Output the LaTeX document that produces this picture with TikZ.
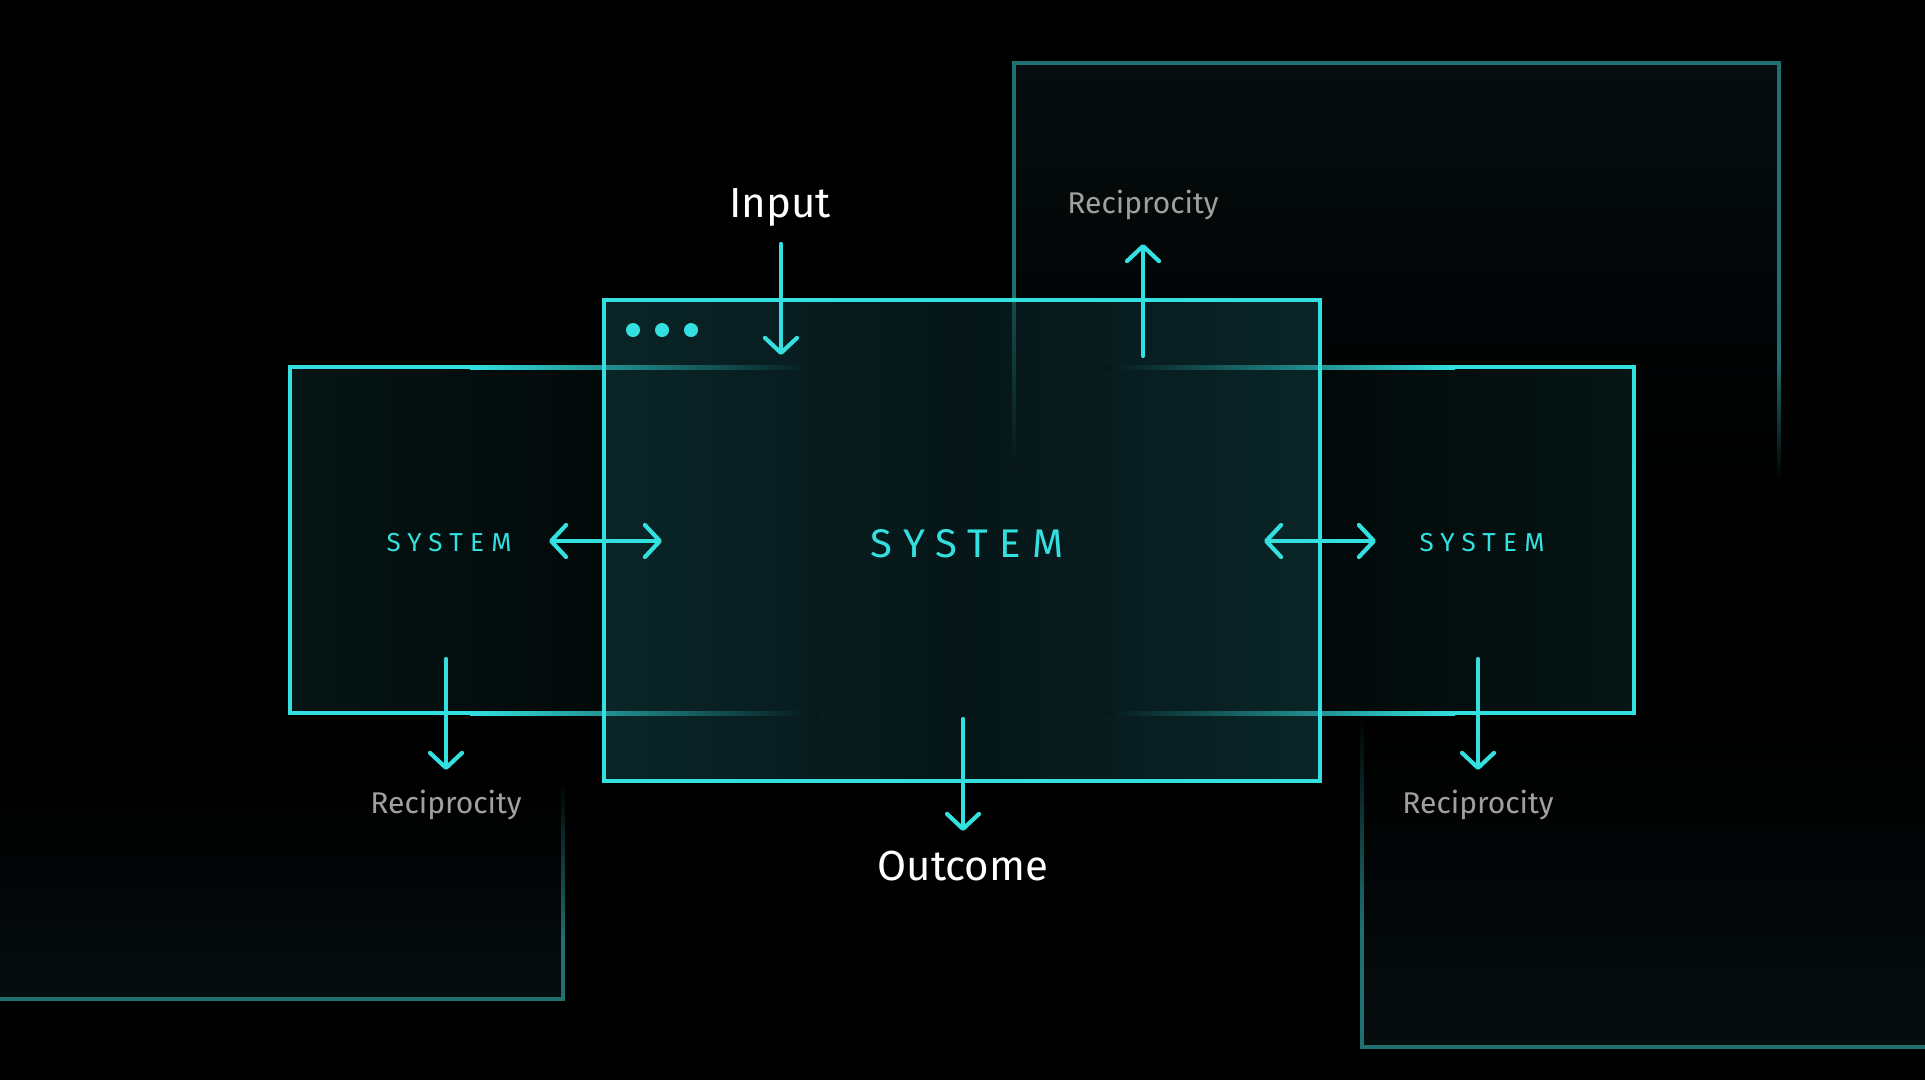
\documentclass[tikz,border=0pt]{standalone}
\usepackage{fontspec}
\setmainfont{Fira Sans}
\usetikzlibrary{arrows.meta}
\definecolor{cy}{HTML}{33E0DF}
\definecolor{edgec}{HTML}{1F7070}
\definecolor{edgedim}{HTML}{164C4D}
\definecolor{mfillA}{HTML}{0A2527}
\definecolor{mfillB}{HTML}{061618}
\definecolor{sfillA}{HTML}{051414}
\definecolor{sfillB}{HTML}{020909}
\definecolor{bfill}{HTML}{060D0E}
\definecolor{recgrey}{HTML}{A0A0A0}
\begin{document}
\begin{tikzpicture}[x=1pt,y=-1pt,
  arr/.style={draw=cy, line width=4.2pt, line cap=round,
    -{Straight Barb[length=15pt,width=32pt,round]}},
  darr/.style={draw=cy, line width=4.2pt, line cap=round,
    {Straight Barb[length=15pt,width=32pt,round]}-{Straight Barb[length=15pt,width=32pt,round]}},
  boxline/.style={draw=cy, line width=4pt},
  backline/.style={draw=edgec, line width=3.5pt},
  bigtxt/.style={text=white, inner sep=0pt, anchor=base, font=\fontsize{42}{50}\selectfont},
  rectxt/.style={text=recgrey, inner sep=0pt, anchor=base, font=\fontsize{30}{36}\selectfont},
  sysbig/.style={text=cy, inner sep=0pt, anchor=base, font=\fontsize{40}{48}\selectfont\addfontfeature{LetterSpace=28}},
  syssmall/.style={text=cy, inner sep=0pt, anchor=base, font=\fontsize{26}{30}\selectfont\addfontfeature{LetterSpace=28}},
  dot/.style={fill=cy}
]
% canvas
\fill[black] (0,0) rectangle (1925,1080);
\useasboundingbox (0,0) rectangle (1925,1080);

% ---------- back boxes ----------
% top right
\shade[top color=bfill, bottom color=black] (1014,63) rectangle (1779,480);
\draw[backline] (1012.25,63) -- (1780.75,63);
\fill[edgec] (1012.25,63) rectangle (1015.75,300);
\fill[edgec] (1777.25,63) rectangle (1780.75,360);
\shade[top color=edgec, bottom color=black] (1777.25,360) rectangle (1780.75,480);
% bottom left
\shade[top color=black, bottom color=bfill] (0,785) rectangle (563,999);
\fill[edgec] (0,997.25) rectangle (564.75,1000.75);
\shade[top color=black, bottom color=edgec] (561.25,780) rectangle (564.75,940);
\fill[edgec] (561.25,940) rectangle (564.75,1000);
% bottom right
\shade[top color=black, bottom color=bfill] (1362,724) rectangle (1925,1047);
\fill[edgec] (1360.25,1045.25) rectangle (1925,1048.75);
\shade[top color=black, bottom color=edgec] (1360.25,715) rectangle (1363.75,930);
\fill[edgec] (1360.25,930) rectangle (1363.75,1048);

% ---------- side box fills ----------
\shade[left color=sfillA, right color=sfillB] (290,367) rectangle (604,713);
\shade[left color=sfillB, right color=sfillA] (1320,367) rectangle (1634,713);

% ---------- main box fill ----------
\shade[left color=mfillA, right color=mfillA, middle color=mfillB] (604,300) rectangle (1320,781);

% faded lines seen through the main box
\shade[left color=cy, right color=mfillB] (470,365) rectangle (818,369);
\shade[left color=cy, right color=mfillB] (470,711) rectangle (818,715);
\shade[left color=mfillB, right color=cy] (1105,365) rectangle (1455,369);
\shade[left color=mfillB, right color=cy] (1105,711) rectangle (1455,715);
\shade[top color=edgedim, bottom color=mfillB] (1012.5,300) rectangle (1015.5,470);

% ---------- side box bright edges ----------
\fill[cy] (288,365) rectangle (470,369);
\fill[cy] (288,365) rectangle (292,715);
\fill[cy] (288,711) rectangle (470,715);
\fill[cy] (1455,365) rectangle (1636,369);
\fill[cy] (1632,365) rectangle (1636,715);
\fill[cy] (1455,711) rectangle (1636,715);

% ---------- main box ----------
\draw[boxline] (604,300) rectangle (1320,781);
\fill[dot] (633,330) circle (7);
\fill[dot] (662,330) circle (7);
\fill[dot] (691,330) circle (7);

% ---------- texts ----------
\node[sysbig]   (sysM) at (967,557) {SYSTEM};
\node[syssmall] (sysL) at (449,551) {SYSTEM};
\node[syssmall] (sysR) at (1482,551) {SYSTEM};
\node[bigtxt] (input)   at (780,217) {Input};
\node[bigtxt] (outcome) at (963,880) {Outcome};
\node[rectxt] (recT) at (1143,213) {Reciprocity};
\node[rectxt] (recL) at (446,813) {Reciprocity};
\node[rectxt] (recR) at (1478,813) {Reciprocity};

% ---------- connector ends ----------
\coordinate (inA) at (781,244);   \coordinate (inB) at (781,355);
\coordinate (rtA) at (1143,356);  \coordinate (rtB) at (1143,244);
\coordinate (ocA) at (963,719);   \coordinate (ocB) at (963,831);
\coordinate (rlA) at (446,659);   \coordinate (rlB) at (446,770);
\coordinate (rrA) at (1478,659);  \coordinate (rrB) at (1478,770);
\coordinate (dlA) at (549,541);   \coordinate (dlB) at (662,541);
\coordinate (drA) at (1264,541);  \coordinate (drB) at (1376,541);

\draw[arr] (inA) -- (inB);
\draw[arr] (rtA) -- (rtB);
\draw[arr] (ocA) -- (ocB);
\draw[arr] (rlA) -- (rlB);
\draw[arr] (rrA) -- (rrB);
\draw[darr] (dlA) -- (dlB);
\draw[darr] (drA) -- (drB);
\end{tikzpicture}
\end{document}
